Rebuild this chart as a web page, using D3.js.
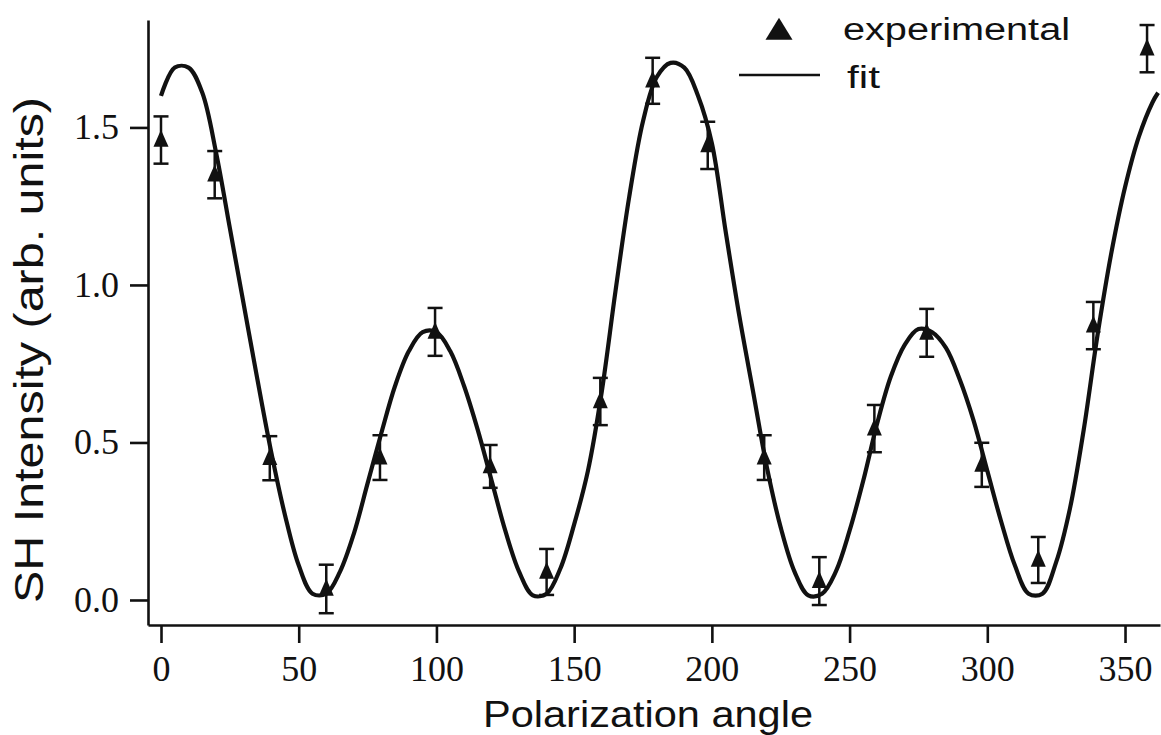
<!DOCTYPE html>
<html>
<head>
<meta charset="utf-8">
<script src="https://cdn.jsdelivr.net/npm/d3@7"></script>
<style>
  body { margin: 0; background: #fff; }
  svg { display: block; }
  .tick text { font-family: "Liberation Serif", "Times New Roman", serif; font-size: 36px; fill: #111; }
  .label { font-family: "Liberation Sans", Arial, sans-serif; fill: #111; }
</style>
</head>
<body>
<div id="chart"></div>
<script>
// measured SH intensity vs polarization angle
const expAngle = [0, 19.5, 39.5, 60, 79.5, 99.5, 119.5, 140, 159.5, 178.5, 198.5, 219, 239, 259, 278, 298, 318.5, 338.5, 358];
const expValue = [1.46, 1.35, 0.45, 0.035, 0.452, 0.851, 0.424, 0.089, 0.63, 1.648, 1.443, 0.452, 0.06, 0.544, 0.848, 0.429, 0.127, 0.871, 1.75];
const expError = [0.075, 0.075, 0.07, 0.077, 0.071, 0.076, 0.068, 0.073, 0.075, 0.073, 0.075, 0.071, 0.076, 0.075, 0.076, 0.07, 0.073, 0.075, 0.075];

// fitted curve, sampled every 5 degrees
const fitAngle = [0, 5, 10, 15, 20, 25, 30, 35, 40, 45, 50, 55, 60, 65, 70, 75, 80, 85, 90, 95,
  100, 105, 110, 115, 120, 125, 130, 135, 140, 145, 150, 155, 160, 165, 170, 175, 180, 185, 190, 195,
  200, 205, 210, 215, 220, 225, 230, 235, 240, 245, 250, 255, 260, 265, 270, 275, 280, 285, 290, 295,
  300, 305, 310, 315, 320, 325, 330, 335, 340, 345, 350, 355, 360, 362];
const fitValue = [1.60, 1.69, 1.69, 1.61, 1.42, 1.18, 0.94, 0.70, 0.47, 0.27, 0.11, 0.02, 0.02, 0.09, 0.21, 0.37, 0.53, 0.68, 0.79, 0.85,
  0.85, 0.79, 0.68, 0.54, 0.38, 0.22, 0.09, 0.015, 0.02, 0.10, 0.24, 0.41, 0.66, 0.98, 1.28, 1.52, 1.66, 1.705, 1.69, 1.60,
  1.45, 1.17, 0.90, 0.66, 0.42, 0.23, 0.09, 0.015, 0.02, 0.09, 0.22, 0.38, 0.56, 0.71, 0.81, 0.86, 0.85, 0.80, 0.70, 0.57,
  0.41, 0.25, 0.11, 0.02, 0.02, 0.12, 0.29, 0.54, 0.84, 1.10, 1.31, 1.47, 1.58, 1.61];

const xTicks = [0, 50, 100, 150, 200, 250, 300, 350];
const yTicks = [0.0, 0.5, 1.0, 1.5];

const width = 1161, height = 735;

const svg = d3.select("#chart").append("svg")
  .attr("width", width)
  .attr("height", height)
  .style("background", "#fff");

const xScale = d3.scaleLinear().domain([-4.72, 362.7]).range([148, 1160]);
const yScale = d3.scaleLinear().domain([-0.0794, 1.841]).range([625, 20]);

// x axis, ticks hanging below the line
const xAxis = svg.append("g")
  .attr("transform", "translate(0," + yScale.range()[0] + ")")
  .call(d3.axisBottom(xScale).tickValues(xTicks).tickFormat(d3.format("d"))
    .tickSize(18).tickSizeOuter(0).tickPadding(12));

// y axis
const yAxis = svg.append("g")
  .attr("transform", "translate(" + xScale.range()[0] + ",0)")
  .call(d3.axisLeft(yScale).tickValues(yTicks).tickFormat(d3.format(".1f"))
    .tickSize(18).tickSizeOuter(0).tickPadding(11));

[xAxis, yAxis].forEach(ax => {
  ax.select(".domain").attr("stroke", "#111").attr("stroke-width", 2.6);
  ax.selectAll(".tick line").attr("stroke", "#111").attr("stroke-width", 2.6);
  ax.selectAll(".tick text").attr("fill", "#111");
});

// axis titles
svg.append("text")
  .attr("class", "label")
  .attr("x", 483).attr("y", 727)
  .attr("textLength", 330)
  .attr("lengthAdjust", "spacingAndGlyphs")
  .style("font-size", "37px")
  .text("Polarization angle");

svg.append("text")
  .attr("class", "label")
  .attr("transform", "translate(43,603) rotate(-90)")
  .attr("textLength", 506)
  .attr("lengthAdjust", "spacingAndGlyphs")
  .style("font-size", "41px")
  .text("SH Intensity (arb. units)");

// fit curve
const line = d3.line()
  .x((d, i) => xScale(fitAngle[i]))
  .y(d => yScale(d))
  .curve(d3.curveCatmullRom.alpha(0.5));

svg.append("path")
  .attr("d", line(fitValue))
  .attr("fill", "none")
  .attr("stroke", "#111")
  .attr("stroke-width", 4.2)
  .attr("stroke-linejoin", "round");

// error bars
const points = expAngle.map((a, i) => ({angle: a, value: expValue[i], err: expError[i]}));
const capHalf = 7.5;
const bars = svg.append("g").attr("stroke", "#111").attr("stroke-width", 2.5);
points.forEach(p => {
  const x = xScale(p.angle);
  const y0 = yScale(p.value - p.err), y1 = yScale(p.value + p.err);
  bars.append("line").attr("x1", x).attr("x2", x).attr("y1", y0).attr("y2", y1);
  bars.append("line").attr("x1", x - capHalf).attr("x2", x + capHalf).attr("y1", y0).attr("y2", y0);
  bars.append("line").attr("x1", x - capHalf).attr("x2", x + capHalf).attr("y1", y1).attr("y2", y1);
});

// triangle markers
const triangle = (cx, cy, w, h) => {
  const p = d3.path();
  p.moveTo(cx, cy - h * 0.6);
  p.lineTo(cx + w / 2, cy + h * 0.4);
  p.lineTo(cx - w / 2, cy + h * 0.4);
  p.closePath();
  return p.toString();
};

svg.append("g").selectAll("path")
  .data(points)
  .join("path")
  .attr("d", d => triangle(xScale(d.angle), yScale(d.value), 15, 17))
  .attr("fill", "#111");

// legend
const legend = svg.append("g");
legend.append("path")
  .attr("d", triangle(779, 31, 27, 22))
  .attr("fill", "#111");
legend.append("text")
  .attr("class", "label")
  .attr("x", 843).attr("y", 40)
  .attr("textLength", 227)
  .attr("lengthAdjust", "spacingAndGlyphs")
  .style("font-size", "31px")
  .text("experimental");
legend.append("line")
  .attr("x1", 739).attr("x2", 820)
  .attr("y1", 75).attr("y2", 75)
  .attr("stroke", "#111").attr("stroke-width", 2.6);
legend.append("text")
  .attr("class", "label")
  .attr("x", 847).attr("y", 88)
  .attr("textLength", 33)
  .attr("lengthAdjust", "spacingAndGlyphs")
  .style("font-size", "32px")
  .text("fit");
</script>
</body>
</html>
